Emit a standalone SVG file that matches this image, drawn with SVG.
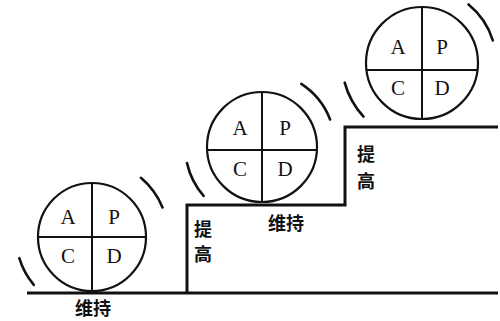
<svg xmlns="http://www.w3.org/2000/svg" width="500" height="321" viewBox="0 0 500 321">
<style>
.c{fill:none;stroke:#111;stroke-width:2.2}
.q{stroke:#111;stroke-width:2}
.l{font-family:"Liberation Serif",serif;font-size:21px;fill:#111;text-anchor:middle;dominant-baseline:central}
.z{font-family:"Noto Sans CJK SC",sans-serif;font-size:18px;font-weight:bold;fill:#111;text-anchor:middle;dominant-baseline:central}
.a{fill:none;stroke:#111;stroke-width:2.6;stroke-linecap:round}
.s{fill:none;stroke:#111;stroke-width:3}
</style>
<rect width="500" height="321" fill="#fff"/>
<g id="steps">
<path class="s" d="M27 293 H498"/>
<path class="s" d="M187 293 V205 H345 V127 H498"/>
</g>
<g id="pdca1">
<circle class="c" cx="92" cy="237" r="54"/>
<line class="q" x1="38" y1="237" x2="146" y2="237"/>
<line class="q" x1="92" y1="183" x2="92" y2="291"/>
<text class="l" x="68" y="217">A</text><text class="l" x="114" y="217">P</text>
<text class="l" x="68" y="256">C</text><text class="l" x="114" y="256">D</text>
</g>
<g id="pdca2">
<circle class="c" cx="262" cy="147" r="55"/>
<line class="q" x1="207" y1="150" x2="317" y2="150"/>
<line class="q" x1="262" y1="92" x2="262" y2="202"/>
<text class="l" x="240" y="128">A</text><text class="l" x="285" y="128">P</text>
<text class="l" x="240" y="169">C</text><text class="l" x="285" y="169">D</text>
</g>
<g id="pdca3">
<circle class="c" cx="422" cy="63" r="56"/>
<line class="q" x1="366" y1="70" x2="478" y2="70"/>
<line class="q" x1="422" y1="7" x2="422" y2="119"/>
<text class="l" x="398" y="47">A</text><text class="l" x="442" y="47">P</text>
<text class="l" x="398" y="88">C</text><text class="l" x="442" y="88">D</text>
</g>
<g id="arcs">
<path class="a" d="M19.3 258.2 A76 76 0 0 0 33.8 284.9"/>
<path class="a" d="M140.9 177.8 A76 76 0 0 1 162.5 207.5"/>
<path class="a" d="M187 163.1 A76 76 0 0 0 203.6 195.9"/>
<path class="a" d="M301.3 83.9 A74 74 0 0 1 330.1 119.5"/>
<path class="a" d="M344.7 82.7 A80 80 0 0 0 363.5 116.6"/>
<path class="a" d="M468.5 4.5 A74 74 0 0 1 492.8 40.4"/>
</g>
<g id="labels">
<text class="z" x="93" y="307">维持</text>
<text class="z" x="286" y="222">维持</text>
<text class="z" x="203" y="228">提</text><text class="z" x="203" y="253">高</text>
<text class="z" x="366" y="153">提</text><text class="z" x="366" y="180">高</text>
</g>
</svg>
